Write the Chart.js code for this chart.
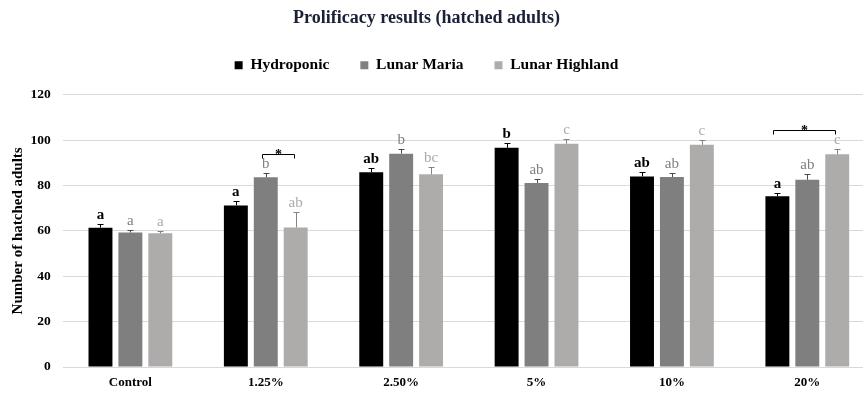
<!DOCTYPE html>
<html>
<head>
<meta charset="utf-8">
<script src="https://cdn.jsdelivr.net/npm/chart.js@4.4.1/dist/chart.umd.min.js"></script>
<style>
  html, body { margin: 0; padding: 0; background: #fff; overflow: hidden; }
  #wrap { width: 898px; height: 395px; margin-left: -22px; }
</style>
</head>
<body>
<div id="wrap"><canvas id="c" width="898" height="395"></canvas></div>
<script>
// Categories and series
const categories = ['Control', '1.25%', '2.50%', '5%', '10%', '20%'];
const seriesNames = ['Hydroponic', 'Lunar Maria', 'Lunar Highland'];

const hydroponic = [61.4, 71.2, 85.8, 96.6, 84.0, 75.2];
const lunarMaria = [59.3, 83.6, 94.0, 81.1, 83.7, 82.5];
const lunarHighland = [58.9, 61.5, 84.9, 98.4, 97.9, 93.8];

// Standard errors (upper whisker)
const hydroponicErr = [1.5, 2.1, 2.0, 1.9, 1.9, 1.5];
const lunarMariaErr = [1.0, 1.7, 2.0, 1.7, 1.8, 2.5];
const lunarHighlandErr = [1.0, 6.6, 3.1, 1.9, 2.1, 2.2];

// Significance letters
const hydroponicLetters = ['a', 'a', 'ab', 'b', 'ab', 'a'];
const lunarMariaLetters = ['a', 'b', 'b', 'ab', 'ab', 'ab'];
const lunarHighlandLetters = ['a', 'ab', 'bc', 'c', 'c', 'c'];

// Pairwise significance brackets: category index, first and last series, level
const bracketCategory = [1, 5];
const bracketFrom = [1, 0];
const bracketTo = [2, 2];
const bracketLevel = [93.8, 104.4];

const yTicks = [0, 20, 40, 60, 80, 100, 120];

const serif = "'Liberation Serif', 'Times New Roman', serif";
const barColors = ['#000000', '#7f7f7f', '#aeabab'];
const errColors = ['#000000', '#4a4a4a', '#858282'];
const letterColors = ['#000000', '#808080', '#ada9a9'];
const letterWeights = ['bold', 'normal', 'normal'];

const values = [hydroponic, lunarMaria, lunarHighland];
const errs = [hydroponicErr, lunarMariaErr, lunarHighlandErr];
const letters = [hydroponicLetters, lunarMariaLetters, lunarHighlandLetters];

// Extra room below the legend
const legendGap = {
  id: 'legendGap',
  beforeInit(chart) {
    if (!chart.legend) return;
    const fit = chart.legend.fit;
    chart.legend.fit = function () {
      fit.call(this);
      this.height += 11.6;
    };
  }
};

const annotate = {
  id: 'annotate',
  afterDatasetsDraw(chart) {
    const ctx = chart.ctx;
    const y = chart.scales.y;
    ctx.save();
    // error bars and letters
    values.forEach((vals, d) => {
      const meta = chart.getDatasetMeta(d);
      meta.data.forEach((bar, i) => {
        const top = y.getPixelForValue(vals[i] + errs[d][i]);
        const base = y.getPixelForValue(vals[i]);
        const x = Math.round(bar.x) + 0.5;
        ctx.strokeStyle = errColors[d];
        ctx.lineWidth = 1;
        ctx.beginPath();
        ctx.moveTo(x, base);
        ctx.lineTo(x, Math.round(top) + 0.5);
        ctx.moveTo(x - 3, Math.round(top) + 0.5);
        ctx.lineTo(x + 3, Math.round(top) + 0.5);
        ctx.stroke();

        ctx.fillStyle = letterColors[d];
        ctx.font = letterWeights[d] + ' 15px ' + serif;
        ctx.textAlign = 'center';
        ctx.textBaseline = 'alphabetic';
        ctx.fillText(letters[d][i], bar.x, top - 5);
      });
    });
    // brackets with asterisks
    bracketCategory.forEach((c, k) => {
      const a = chart.getDatasetMeta(bracketFrom[k]).data[c];
      const b = chart.getDatasetMeta(bracketTo[k]).data[c];
      const x1 = Math.round(a.x - 4) + 0.5;
      const x2 = Math.round(b.x - 2) + 0.5;
      const yy = Math.round(y.getPixelForValue(bracketLevel[k])) + 0.5;
      ctx.strokeStyle = '#000';
      ctx.lineWidth = 1;
      ctx.beginPath();
      ctx.moveTo(x1, yy + 4);
      ctx.lineTo(x1, yy);
      ctx.lineTo(x2, yy);
      ctx.lineTo(x2, yy + 4);
      ctx.stroke();
      ctx.fillStyle = '#000';
      ctx.font = 'bold 14px ' + serif;
      ctx.textAlign = 'center';
      ctx.textBaseline = 'alphabetic';
      ctx.fillText('*', (x1 + x2) / 2, yy + 4);
    });
    ctx.restore();
  }
};

new Chart(document.getElementById('c'), {
  type: 'bar',
  data: {
    labels: categories,
    datasets: seriesNames.map((name, d) => ({
      label: name,
      data: values[d],
      backgroundColor: barColors[d],
      borderWidth: 0,
      categoryPercentage: 0.663,
      barPercentage: 0.8
    }))
  },
  options: {
    responsive: false,
    devicePixelRatio: 1,
    animation: false,
    layout: { padding: { left: 0, right: 1, top: 0, bottom: 0 } },
    plugins: {
      title: {
        display: true,
        text: 'Prolificacy results (hatched adults)',
        color: '#1b2036',
        font: { family: serif, size: 18, weight: 'bold' },
        padding: { top: 8, bottom: -3 }
      },
      legend: {
        display: true,
        position: 'top',
        labels: {
          color: '#000',
          font: { family: serif, size: 15.5, weight: 'bold' },
          boxWidth: 8,
          boxHeight: 8,
          padding: 31
        }
      },
      tooltip: { enabled: false }
    },
    scales: {
      x: {
        afterFit(scale) { scale.height = 28; },
        grid: { display: false, drawTicks: false },
        border: { display: false },
        ticks: { color: '#000', font: { family: serif, size: 13, weight: 'bold' }, padding: 8 }
      },
      y: {
        min: 0,
        max: 120,
        afterBuildTicks(scale) { scale.ticks = yTicks.map(v => ({ value: v })); },
        afterFit(scale) { scale.width = 84.7; },
        grid: { color: '#d9d9d9', drawTicks: false, lineWidth: 1 },
        border: { display: false },
        ticks: { color: '#000', font: { family: serif, size: 13.5, weight: 'bold' }, padding: 12 },
        title: {
          display: true,
          text: 'Number of hatched adults',
          color: '#000',
          font: { family: serif, size: 15, weight: 'bold' },
          padding: { top: 31, bottom: 0 }
        }
      }
    }
  },
  plugins: [legendGap, annotate]
});
</script>
</body>
</html>
